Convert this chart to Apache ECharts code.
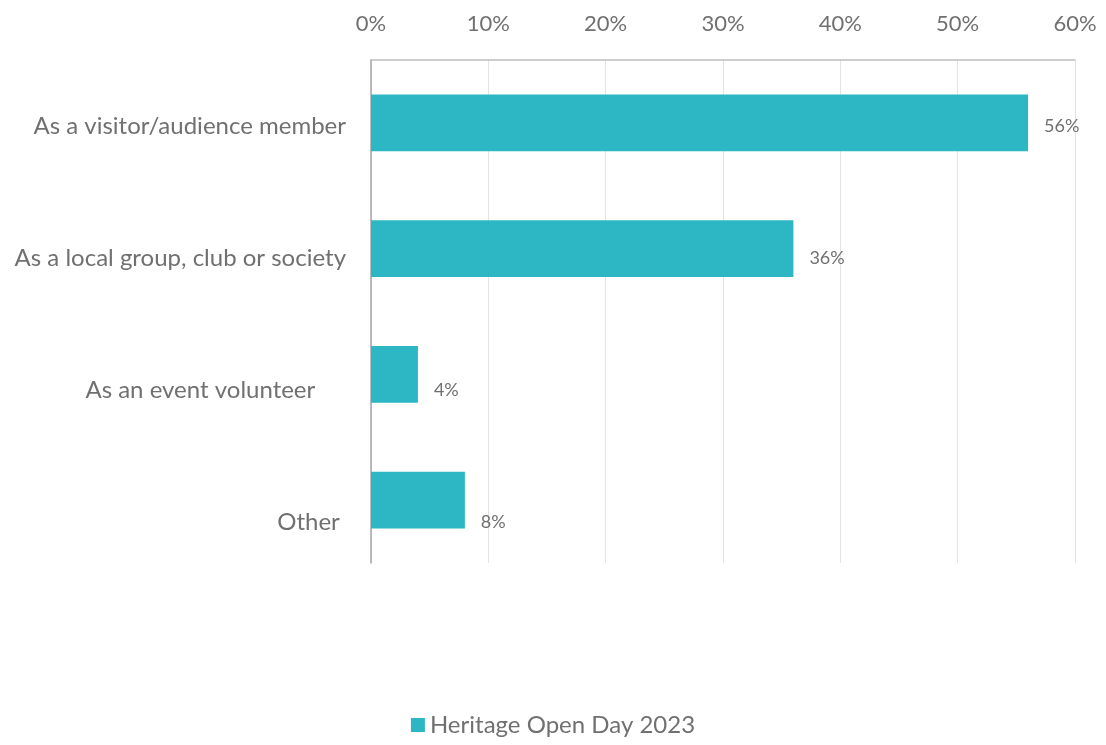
<!DOCTYPE html>
<html>
<head>
<meta charset="utf-8">
<script src="https://cdn.jsdelivr.net/npm/echarts@6/dist/echarts.min.js"></script>
<style>
  html, body { margin: 0; padding: 0; background: #ffffff; }
  #chart { width: 1106px; height: 745px; }
</style>
</head>
<body>
<div id="chart"></div>
<script>
// Ways of taking part, share of respondents (%)
const categories = [
  'As a visitor/audience member',
  'As a local group, club or society',
  'As an event volunteer     ',
  'Other '
];
const seriesName = 'Heritage Open Day 2023';
const values = [56, 36, 4, 8];
const tickMax = 60;
const tickStep = 10;

const FONT = 'Lato, "Open Sans", sans-serif';
const TEXT = '#707070';
const BAR = '#2DB7C4';

const chart = echarts.init(document.getElementById('chart'), null, { renderer: 'canvas' });

chart.setOption({
  animation: false,
  textStyle: { fontFamily: FONT },
  legend: {
    data: [seriesName],
    bottom: 3,
    left: 'center',
    itemWidth: 14,
    itemHeight: 14,
    itemGap: 20,
    icon: 'rect',
    textStyle: { fontSize: 24, color: TEXT, fontFamily: FONT }
  },
  grid: [
    // bars, axes and gridlines
    { left: 371, right: 31, top: 60, bottom: 182 },
    // category and value labels, on a slightly taller band
    { left: 371, right: 31, top: 60, bottom: 157 }
  ],
  xAxis: [
    {
      gridIndex: 0,
      type: 'value',
      position: 'top',
      min: 0,
      max: tickMax,
      interval: tickStep,
      axisLine: { show: true, lineStyle: { color: '#BFBFBF', width: 1.5 } },
      axisTick: { show: false },
      splitLine: { show: true, lineStyle: { color: '#E3E3E3', width: 1 } },
      axisLabel: {
        formatter: v => v + '%',
        fontSize: 22,
        color: TEXT,
        fontFamily: FONT,
        margin: 25
      }
    },
    {
      gridIndex: 1,
      type: 'value',
      min: 0,
      max: tickMax,
      show: false
    }
  ],
  yAxis: [
    {
      gridIndex: 0,
      type: 'category',
      data: categories,
      inverse: true,
      axisLine: { show: true, lineStyle: { color: '#A6A6A6', width: 1.5 } },
      axisTick: { show: false },
      axisLabel: { show: false },
      splitLine: { show: false }
    },
    {
      gridIndex: 1,
      type: 'category',
      data: categories,
      inverse: true,
      axisLine: { show: false },
      axisTick: { show: false },
      splitLine: { show: false },
      axisLabel: {
        fontSize: 24,
        color: TEXT,
        fontFamily: FONT,
        margin: 25
      }
    }
  ],
  series: [
    {
      name: seriesName,
      type: 'bar',
      xAxisIndex: 0,
      yAxisIndex: 0,
      data: values,
      barWidth: '45%',
      itemStyle: { color: BAR },
      silent: true
    },
    {
      name: 'labels',
      type: 'bar',
      xAxisIndex: 1,
      yAxisIndex: 1,
      data: values,
      barWidth: '45%',
      itemStyle: { color: 'rgba(0,0,0,0)' },
      silent: true,
      label: {
        show: true,
        position: 'right',
        distance: 16,
        formatter: p => p.value + '%',
        fontSize: 18,
        color: TEXT,
        fontFamily: FONT
      }
    }
  ]
});
</script>
</body>
</html>
